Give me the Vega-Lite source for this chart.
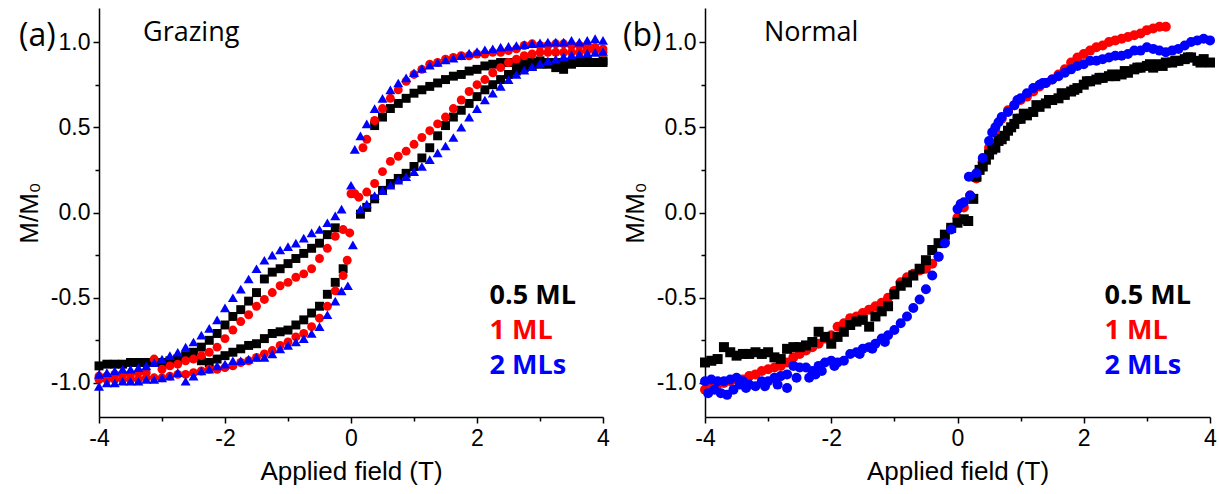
{
"$schema": "https://vega.github.io/schema/vega-lite/v6.json",
"background": "white",
"padding": {"left": 16, "top": 8, "right": 5, "bottom": 5},
"spacing": 102,
"bounds": "flush",
"config": {"view": {"stroke": null}, "axis": {"grid": false, "domainColor": "#000", "domainWidth": 1.5, "tickColor": "#000", "tickWidth": 1.5, "labelFont": "Liberation Sans", "labelFontSize": 23, "labelColor": "#000", "labelFlush": false, "labelOverlap": false, "titleFont": "Liberation Sans", "titleFontSize": 26, "titleFontWeight": "normal", "titleColor": "#000"}},
"datasets": {
"a05": [
{"x":-4,"y":-0.90},{"x":-3.875,"y":-0.89},{"x":-3.75,"y":-0.89},{"x":-3.625,"y":-0.89},{"x":-3.5,"y":-0.88},{"x":-3.375,"y":-0.88},{"x":-3.25,"y":-0.88},{"x":-3.125,"y":-0.88},{"x":-3,"y":-0.88},{"x":-2.875,"y":-0.87},{"x":-2.75,"y":-0.86},{"x":-2.625,"y":-0.84},{"x":-2.5,"y":-0.82},{"x":-2.375,"y":-0.79},{"x":-2.25,"y":-0.75},{"x":-2.125,"y":-0.71},{"x":-2,"y":-0.66},{"x":-1.875,"y":-0.61},{"x":-1.75,"y":-0.57},{"x":-1.625,"y":-0.52},{"x":-1.5,"y":-0.47},{"x":-1.375,"y":-0.39},{"x":-1.25,"y":-0.35},{"x":-1.125,"y":-0.33},{"x":-1,"y":-0.30},{"x":-0.875,"y":-0.27},{"x":-0.75,"y":-0.24},{"x":-0.625,"y":-0.21},{"x":-0.5,"y":-0.18},{"x":-0.375,"y":-0.13},{"x":-0.25,"y":-0.09},
{"x":-0.125,"y":-0.33},{"x":-0.25,"y":-0.41},{"x":-0.375,"y":-0.48},{"x":-0.5,"y":-0.55},{"x":-0.625,"y":-0.59},{"x":-0.75,"y":-0.63},{"x":-0.875,"y":-0.66},{"x":-1,"y":-0.69},{"x":-1.125,"y":-0.70},{"x":-1.25,"y":-0.71},{"x":-1.375,"y":-0.74},{"x":-1.5,"y":-0.77},{"x":-1.625,"y":-0.78},{"x":-1.75,"y":-0.80},{"x":-1.875,"y":-0.82},{"x":-2,"y":-0.84},{"x":-2.125,"y":-0.86},{"x":-2.25,"y":-0.88},{"x":-2.375,"y":-0.87},
{"x":0.15,"y":-0.01},{"x":0.25,"y":0.03},{"x":0.375,"y":0.08},{"x":0.5,"y":0.13},{"x":0.625,"y":0.17},{"x":0.75,"y":0.20},{"x":0.875,"y":0.23},{"x":1,"y":0.27},{"x":1.125,"y":0.32},{"x":1.25,"y":0.38},{"x":1.375,"y":0.45},{"x":1.5,"y":0.51},{"x":1.625,"y":0.56},{"x":1.75,"y":0.60},{"x":1.875,"y":0.64},{"x":2,"y":0.68},{"x":2.125,"y":0.72},{"x":2.25,"y":0.75},{"x":2.375,"y":0.78},{"x":2.5,"y":0.81},{"x":2.625,"y":0.83},{"x":2.75,"y":0.85},{"x":2.875,"y":0.86},{"x":3,"y":0.87},{"x":3.125,"y":0.87},{"x":3.25,"y":0.88},{"x":3.375,"y":0.88},{"x":3.5,"y":0.88},{"x":3.625,"y":0.88},{"x":3.75,"y":0.89},{"x":3.875,"y":0.88},{"x":4,"y":0.88},
{"x":0.375,"y":0.51},{"x":0.5,"y":0.56},{"x":0.625,"y":0.61},{"x":0.75,"y":0.64},{"x":0.875,"y":0.67},{"x":1,"y":0.70},{"x":1.125,"y":0.72},{"x":1.25,"y":0.74},{"x":1.375,"y":0.76},{"x":1.5,"y":0.78},{"x":1.625,"y":0.80},{"x":1.75,"y":0.81},{"x":1.875,"y":0.83},{"x":2,"y":0.84},{"x":2.125,"y":0.86},{"x":2.25,"y":0.87},{"x":2.375,"y":0.88},{"x":2.5,"y":0.88},{"x":2.625,"y":0.88},{"x":2.75,"y":0.89},{"x":2.875,"y":0.88},{"x":3,"y":0.89},{"x":3.125,"y":0.88},{"x":3.25,"y":0.85},{"x":3.375,"y":0.84},{"x":3.5,"y":0.87},{"x":3.625,"y":0.88},{"x":3.75,"y":0.88},{"x":3.875,"y":0.88},{"x":4,"y":0.89}
],
"a1": [
{"x":-4,"y":-0.96},{"x":-3.875,"y":-0.96},{"x":-3.75,"y":-0.95},{"x":-3.625,"y":-0.95},{"x":-3.5,"y":-0.95},{"x":-3.375,"y":-0.94},{"x":-3.25,"y":-0.94},{"x":-3.125,"y":-0.86},{"x":-3,"y":-0.92},{"x":-2.875,"y":-0.90},{"x":-2.75,"y":-0.89},{"x":-2.625,"y":-0.87},{"x":-2.5,"y":-0.86},{"x":-2.375,"y":-0.84},{"x":-2.25,"y":-0.82},{"x":-2.125,"y":-0.79},{"x":-2,"y":-0.74},{"x":-1.875,"y":-0.69},{"x":-1.75,"y":-0.64},{"x":-1.625,"y":-0.60},{"x":-1.5,"y":-0.55},{"x":-1.375,"y":-0.51},{"x":-1.25,"y":-0.47},{"x":-1.125,"y":-0.43},{"x":-1,"y":-0.41},{"x":-0.875,"y":-0.38},{"x":-0.75,"y":-0.36},{"x":-0.625,"y":-0.33},{"x":-0.5,"y":-0.27},{"x":-0.375,"y":-0.21},{"x":-0.25,"y":-0.14},{"x":-0.125,"y":-0.10},{"x":-0.02,"y":-0.12},
{"x":-0.06,"y":-0.28},{"x":-0.125,"y":-0.37},{"x":-0.25,"y":-0.46},{"x":-0.375,"y":-0.55},{"x":-0.5,"y":-0.62},{"x":-0.625,"y":-0.67},{"x":-0.75,"y":-0.71},{"x":-0.875,"y":-0.73},{"x":-1,"y":-0.76},{"x":-1.125,"y":-0.78},{"x":-1.25,"y":-0.81},{"x":-1.375,"y":-0.83},{"x":-1.5,"y":-0.85},{"x":-1.625,"y":-0.87},{"x":-1.75,"y":-0.88},{"x":-1.875,"y":-0.90},{"x":-2,"y":-0.91},{"x":-2.125,"y":-0.92},{"x":-2.25,"y":-0.92},{"x":-2.375,"y":-0.93},{"x":-2.5,"y":-0.94},{"x":-2.625,"y":-0.95},{"x":-2.75,"y":-0.95},{"x":-2.875,"y":-0.96},{"x":-3,"y":-0.97},{"x":-3.125,"y":-0.97},{"x":-3.25,"y":-0.97},{"x":-3.375,"y":-0.98},{"x":-3.5,"y":-0.98},{"x":-3.625,"y":-0.98},{"x":-3.75,"y":-0.98},{"x":-3.875,"y":-0.98},{"x":-4,"y":-0.98},
{"x":0,"y":0.11},{"x":0.06,"y":0.11},{"x":0.125,"y":0.09},{"x":0.25,"y":0.12},{"x":0.375,"y":0.17},{"x":0.5,"y":0.24},{"x":0.625,"y":0.30},{"x":0.75,"y":0.33},{"x":0.875,"y":0.36},{"x":1,"y":0.40},{"x":1.125,"y":0.44},{"x":1.25,"y":0.48},{"x":1.375,"y":0.52},{"x":1.5,"y":0.56},{"x":1.625,"y":0.61},{"x":1.75,"y":0.66},{"x":1.875,"y":0.71},{"x":2,"y":0.75},{"x":2.125,"y":0.78},{"x":2.25,"y":0.82},{"x":2.375,"y":0.85},{"x":2.5,"y":0.88},{"x":2.625,"y":0.90},{"x":2.75,"y":0.92},{"x":2.875,"y":0.93},{"x":3,"y":0.94},{"x":3.125,"y":0.94},{"x":3.25,"y":0.94},{"x":3.375,"y":0.94},{"x":3.5,"y":0.94},{"x":3.625,"y":0.94},{"x":3.75,"y":0.95},{"x":3.875,"y":0.95},{"x":4,"y":0.94},
{"x":0.19,"y":0.38},{"x":0.25,"y":0.43},{"x":0.375,"y":0.54},{"x":0.5,"y":0.61},{"x":0.625,"y":0.67},{"x":0.75,"y":0.72},{"x":0.875,"y":0.77},{"x":1,"y":0.81},{"x":1.125,"y":0.84},{"x":1.25,"y":0.87},{"x":1.375,"y":0.88},{"x":1.5,"y":0.90},{"x":1.625,"y":0.91},{"x":1.75,"y":0.92},{"x":1.875,"y":0.92},{"x":2,"y":0.93},{"x":2.125,"y":0.93},{"x":2.25,"y":0.94},{"x":2.375,"y":0.94},{"x":2.5,"y":0.95},{"x":2.625,"y":0.96},{"x":2.75,"y":0.98},{"x":2.875,"y":0.99},{"x":3,"y":0.98},{"x":3.125,"y":0.98},{"x":3.25,"y":0.99},{"x":3.375,"y":0.99},{"x":3.5,"y":0.98},{"x":3.625,"y":0.98},{"x":3.75,"y":0.97},{"x":3.875,"y":0.97},{"x":4,"y":0.96}
],
"a2": [
{"x":-4,"y":-0.95},{"x":-3.875,"y":-0.94},{"x":-3.75,"y":-0.93},{"x":-3.625,"y":-0.92},{"x":-3.5,"y":-0.92},{"x":-3.375,"y":-0.91},{"x":-3.25,"y":-0.90},{"x":-3.125,"y":-0.88},{"x":-3,"y":-0.86},{"x":-2.875,"y":-0.84},{"x":-2.75,"y":-0.82},{"x":-2.625,"y":-0.79},{"x":-2.5,"y":-0.76},{"x":-2.375,"y":-0.72},{"x":-2.25,"y":-0.68},{"x":-2.125,"y":-0.63},{"x":-2,"y":-0.56},{"x":-1.875,"y":-0.50},{"x":-1.75,"y":-0.45},{"x":-1.625,"y":-0.39},{"x":-1.5,"y":-0.33},{"x":-1.375,"y":-0.28},{"x":-1.25,"y":-0.25},{"x":-1.125,"y":-0.22},{"x":-1,"y":-0.20},{"x":-0.875,"y":-0.18},{"x":-0.75,"y":-0.15},{"x":-0.625,"y":-0.12},{"x":-0.5,"y":-0.10},{"x":-0.375,"y":-0.06},{"x":-0.25,"y":-0.02},{"x":-0.15,"y":0.02},
{"x":0,"y":0.16},{"x":0.03,"y":-0.19},{"x":-0.05,"y":-0.43},
{"x":-0.15,"y":-0.46},{"x":-0.25,"y":-0.52},{"x":-0.375,"y":-0.60},{"x":-0.5,"y":-0.67},{"x":-0.625,"y":-0.71},{"x":-0.75,"y":-0.74},{"x":-0.875,"y":-0.76},{"x":-1,"y":-0.78},{"x":-1.125,"y":-0.80},{"x":-1.25,"y":-0.83},{"x":-1.375,"y":-0.85},{"x":-1.5,"y":-0.85},{"x":-1.625,"y":-0.86},{"x":-1.75,"y":-0.87},{"x":-1.875,"y":-0.87},{"x":-2,"y":-0.89},{"x":-2.125,"y":-0.90},{"x":-2.25,"y":-0.92},{"x":-2.375,"y":-0.93},{"x":-2.5,"y":-0.96},{"x":-2.625,"y":-0.99},{"x":-2.75,"y":-0.94},{"x":-2.875,"y":-0.96},{"x":-3,"y":-0.97},{"x":-3.125,"y":-0.98},{"x":-3.25,"y":-0.98},{"x":-3.375,"y":-0.99},{"x":-3.5,"y":-0.99},{"x":-3.625,"y":-0.99},{"x":-3.75,"y":-1.0},{"x":-3.875,"y":-1.0},{"x":-4,"y":-1.02},
{"x":0.06,"y":0.37},{"x":0.15,"y":0.45},{"x":0.25,"y":0.52},{"x":0.375,"y":0.61},{"x":0.5,"y":0.67},{"x":0.625,"y":0.72},{"x":0.75,"y":0.76},{"x":0.875,"y":0.79},{"x":1,"y":0.82},{"x":1.125,"y":0.845},{"x":1.25,"y":0.865},{"x":1.375,"y":0.88},{"x":1.5,"y":0.895},{"x":1.625,"y":0.905},{"x":1.75,"y":0.92},{"x":1.875,"y":0.935},{"x":2,"y":0.945},{"x":2.125,"y":0.955},{"x":2.25,"y":0.96},{"x":2.375,"y":0.97},{"x":2.5,"y":0.975},{"x":2.625,"y":0.98},{"x":2.75,"y":0.985},{"x":2.875,"y":0.99},{"x":3,"y":0.995},{"x":3.125,"y":1.0},{"x":3.25,"y":1.0},{"x":3.375,"y":1.0},{"x":3.5,"y":1.01},{"x":3.625,"y":1.0},{"x":3.75,"y":1.01},{"x":3.875,"y":1.02},{"x":4,"y":1.01},
{"x":0.15,"y":0.02},{"x":0.25,"y":0.05},{"x":0.375,"y":0.10},{"x":0.5,"y":0.13},{"x":0.625,"y":0.16},{"x":0.75,"y":0.19},{"x":0.875,"y":0.21},{"x":1,"y":0.24},{"x":1.125,"y":0.27},{"x":1.25,"y":0.31},{"x":1.375,"y":0.35},{"x":1.5,"y":0.39},{"x":1.625,"y":0.44},{"x":1.75,"y":0.50},{"x":1.875,"y":0.56},{"x":2,"y":0.61},{"x":2.125,"y":0.66},{"x":2.25,"y":0.70},{"x":2.375,"y":0.74},{"x":2.5,"y":0.78},{"x":2.625,"y":0.81},{"x":2.75,"y":0.835},{"x":2.875,"y":0.855},{"x":3,"y":0.875},{"x":3.125,"y":0.89},{"x":3.25,"y":0.90},{"x":3.375,"y":0.915},{"x":3.5,"y":0.925},{"x":3.625,"y":0.93},{"x":3.75,"y":0.935},{"x":3.875,"y":0.94},{"x":4,"y":0.945}
],
"b05": [
{"x":-4,"y":-0.88},{"x":-3.9,"y":-0.87},{"x":-3.8,"y":-0.86},{"x":-3.7,"y":-0.79},{"x":-3.6,"y":-0.82},{"x":-3.5,"y":-0.84},{"x":-3.4,"y":-0.83},{"x":-3.3,"y":-0.83},{"x":-3.2,"y":-0.82},{"x":-3.1,"y":-0.83},{"x":-3,"y":-0.82},{"x":-2.9,"y":-0.85},{"x":-2.8,"y":-0.86},{"x":-2.7,"y":-0.80},{"x":-2.6,"y":-0.79},{"x":-2.5,"y":-0.79},{"x":-2.4,"y":-0.78},{"x":-2.3,"y":-0.76},{"x":-2.2,"y":-0.70},{"x":-2.1,"y":-0.73},{"x":-2,"y":-0.77},{"x":-1.9,"y":-0.73},{"x":-1.8,"y":-0.70},{"x":-1.7,"y":-0.66},{"x":-1.6,"y":-0.64},{"x":-1.5,"y":-0.63},{"x":-1.4,"y":-0.67},{"x":-1.3,"y":-0.61},{"x":-1.2,"y":-0.58},{"x":-1.1,"y":-0.55},{"x":-1,"y":-0.48},{"x":-0.9,"y":-0.43},{"x":-0.8,"y":-0.41},{"x":-0.7,"y":-0.37},{"x":-0.6,"y":-0.33},{"x":-0.5,"y":-0.28},{"x":-0.4,"y":-0.22},{"x":-0.3,"y":-0.18},{"x":-0.2,"y":-0.13},{"x":-0.1,"y":-0.09},{"x":0,"y":-0.06},{"x":0.1,"y":-0.04},{"x":0.17,"y":-0.05},{"x":0.25,"y":0.08},{"x":0.3,"y":0.21},{"x":0.4,"y":0.27},{"x":0.5,"y":0.34},{"x":0.6,"y":0.38},{"x":0.7,"y":0.43},{"x":0.8,"y":0.48},{"x":0.9,"y":0.52},{"x":1,"y":0.55},{"x":1.1,"y":0.57},{"x":1.2,"y":0.59},{"x":1.3,"y":0.62},{"x":1.4,"y":0.64},{"x":1.5,"y":0.66},{"x":1.6,"y":0.67},{"x":1.7,"y":0.69},{"x":1.8,"y":0.71},{"x":1.9,"y":0.73},{"x":2,"y":0.75},{"x":2.1,"y":0.77},{"x":2.2,"y":0.78},{"x":2.3,"y":0.79},{"x":2.4,"y":0.80},{"x":2.5,"y":0.80},{"x":2.6,"y":0.81},{"x":2.7,"y":0.82},{"x":2.8,"y":0.84},{"x":2.9,"y":0.85},{"x":3,"y":0.86},{"x":3.1,"y":0.85},{"x":3.2,"y":0.87},{"x":3.3,"y":0.88},{"x":3.4,"y":0.88},{"x":3.5,"y":0.89},{"x":3.6,"y":0.90},{"x":3.7,"y":0.91},{"x":3.8,"y":0.89},{"x":3.9,"y":0.90},{"x":4,"y":0.88},
{"x":0.35,"y":0.25},{"x":0.45,"y":0.31},{"x":0.55,"y":0.37},{"x":0.65,"y":0.42},{"x":0.75,"y":0.45},{"x":0.85,"y":0.50},{"x":0.95,"y":0.55},{"x":1.05,"y":0.58},{"x":1.25,"y":0.63},{"x":1.45,"y":0.66},{"x":1.65,"y":0.70},{"x":1.85,"y":0.72},{"x":2.05,"y":0.77},{"x":2.25,"y":0.79},{"x":2.45,"y":0.81},{"x":2.65,"y":0.83},{"x":2.85,"y":0.85},{"x":3.05,"y":0.87},{"x":3.25,"y":0.86},{"x":3.45,"y":0.89},{"x":3.65,"y":0.91},{"x":3.85,"y":0.88}
],
"b1": [
{"x":-4,"y":-1.04},{"x":-3.9,"y":-1.02},{"x":-3.8,"y":-1.01},{"x":-3.7,"y":-1.00},{"x":-3.6,"y":-0.99},{"x":-3.5,"y":-0.98},{"x":-3.4,"y":-0.98},{"x":-3.3,"y":-0.96},{"x":-3.2,"y":-0.95},{"x":-3.1,"y":-0.93},{"x":-3,"y":-0.92},{"x":-2.9,"y":-0.91},{"x":-2.8,"y":-0.90},{"x":-2.7,"y":-0.88},{"x":-2.6,"y":-0.85},{"x":-2.5,"y":-0.83},{"x":-2.4,"y":-0.81},{"x":-2.3,"y":-0.79},{"x":-2.2,"y":-0.77},{"x":-2.1,"y":-0.74},{"x":-2,"y":-0.72},{"x":-1.9,"y":-0.67},{"x":-1.8,"y":-0.65},{"x":-1.7,"y":-0.62},{"x":-1.6,"y":-0.61},{"x":-1.5,"y":-0.59},{"x":-1.4,"y":-0.57},{"x":-1.3,"y":-0.55},{"x":-1.2,"y":-0.53},{"x":-1.1,"y":-0.50},{"x":-1,"y":-0.46},{"x":-0.9,"y":-0.41},{"x":-0.8,"y":-0.38},{"x":-0.7,"y":-0.36},{"x":-0.6,"y":-0.34},{"x":-0.5,"y":-0.33},{"x":-0.4,"y":-0.30},{"x":-0.3,"y":-0.26},{"x":-0.2,"y":-0.17},{"x":-0.1,"y":-0.09},{"x":0,"y":-0.03},{"x":0.1,"y":0.03},{"x":0.2,"y":0.10},{"x":0.3,"y":0.20},{"x":0.4,"y":0.30},{"x":0.5,"y":0.38},{"x":0.6,"y":0.47},{"x":0.7,"y":0.55},{"x":0.8,"y":0.60},{"x":0.9,"y":0.63},{"x":1,"y":0.66},{"x":1.1,"y":0.68},{"x":1.2,"y":0.71},{"x":1.3,"y":0.74},{"x":1.4,"y":0.76},{"x":1.5,"y":0.78},{"x":1.6,"y":0.81},{"x":1.7,"y":0.84},{"x":1.8,"y":0.88},{"x":1.9,"y":0.91},{"x":2,"y":0.93},{"x":2.1,"y":0.95},{"x":2.2,"y":0.97},{"x":2.3,"y":0.98},{"x":2.4,"y":1.00},{"x":2.5,"y":1.01},{"x":2.6,"y":1.02},{"x":2.7,"y":1.03},{"x":2.8,"y":1.04},{"x":2.9,"y":1.05},{"x":3,"y":1.07},{"x":3.1,"y":1.08},{"x":3.2,"y":1.09},{"x":3.3,"y":1.09}
],
"b2": [
{"x":-4,"y":-0.99},{"x":-3.9,"y":-0.98},{"x":-3.8,"y":-0.99},{"x":-3.7,"y":-0.99},{"x":-3.6,"y":-0.98},{"x":-3.5,"y":-0.97},{"x":-3.4,"y":-0.99},{"x":-3.3,"y":-1.01},{"x":-3.2,"y":-1.02},{"x":-3.1,"y":-0.99},{"x":-3,"y":-0.99},{"x":-2.9,"y":-0.97},{"x":-2.8,"y":-0.96},{"x":-2.7,"y":-0.95},{"x":-2.6,"y":-0.90},{"x":-2.5,"y":-0.91},{"x":-2.4,"y":-0.91},{"x":-2.3,"y":-0.93},{"x":-2.2,"y":-0.90},{"x":-2.1,"y":-0.88},{"x":-2,"y":-0.87},{"x":-1.9,"y":-0.88},{"x":-1.8,"y":-0.87},{"x":-1.7,"y":-0.83},{"x":-1.6,"y":-0.82},{"x":-1.5,"y":-0.80},{"x":-1.4,"y":-0.79},{"x":-1.3,"y":-0.77},{"x":-1.2,"y":-0.74},{"x":-1.1,"y":-0.72},{"x":-1,"y":-0.69},{"x":-0.9,"y":-0.65},{"x":-0.8,"y":-0.61},{"x":-0.7,"y":-0.56},{"x":-0.6,"y":-0.51},{"x":-0.5,"y":-0.45},{"x":-0.4,"y":-0.37},{"x":-0.3,"y":-0.26},{"x":-0.2,"y":-0.18},{"x":-0.1,"y":-0.10},{"x":0,"y":0.02},{"x":0.1,"y":0.06},{"x":0.2,"y":0.10},{"x":0.3,"y":0.23},{"x":0.4,"y":0.32},{"x":0.5,"y":0.42},{"x":0.6,"y":0.50},{"x":0.7,"y":0.56},{"x":0.8,"y":0.59},{"x":0.9,"y":0.63},{"x":1,"y":0.67},{"x":1.1,"y":0.70},{"x":1.2,"y":0.73},{"x":1.3,"y":0.75},{"x":1.4,"y":0.76},{"x":1.5,"y":0.78},{"x":1.6,"y":0.80},{"x":1.7,"y":0.82},{"x":1.8,"y":0.84},{"x":1.9,"y":0.86},{"x":2,"y":0.87},{"x":2.1,"y":0.89},{"x":2.2,"y":0.89},{"x":2.3,"y":0.90},{"x":2.4,"y":0.91},{"x":2.5,"y":0.92},{"x":2.6,"y":0.92},{"x":2.7,"y":0.93},{"x":2.8,"y":0.95},{"x":2.9,"y":0.95},{"x":3,"y":0.97},{"x":3.1,"y":0.96},{"x":3.2,"y":0.95},{"x":3.3,"y":0.94},{"x":3.4,"y":0.95},{"x":3.5,"y":0.96},{"x":3.6,"y":0.98},{"x":3.7,"y":1.00},{"x":3.8,"y":1.01},{"x":3.9,"y":1.02},{"x":4,"y":1.01},
{"x":-3.95,"y":-1.06},{"x":-3.85,"y":-1.04},{"x":-3.75,"y":-1.06},{"x":-3.65,"y":-1.07},{"x":-3.55,"y":-1.04},{"x":-3.45,"y":-1.01},{"x":-3.35,"y":-1.03},{"x":-3.05,"y":-1.02},{"x":-2.85,"y":-1.01},{"x":-2.7,"y":-1.03},{"x":-2.55,"y":-0.97},{"x":-2.35,"y":-0.97},{"x":-2.25,"y":-0.95},{"x":-2.15,"y":-0.93},{"x":-1.95,"y":-0.90},{"x":-1.55,"y":-0.83},{"x":-1.35,"y":-0.80},{"x":-1.15,"y":-0.76},{"x":0.05,"y":0.05},{"x":0.18,"y":0.21},{"x":0.55,"y":0.47},{"x":0.65,"y":0.53},{"x":0.95,"y":0.66},{"x":1.35,"y":0.76}
]
},
"hconcat": [
{
"width": 504, "height": 409,
"resolve": {"axis": {"x": "independent", "y": "independent"}},
"layer": [
{"data": {"name": "a05"}, "mark": {"type": "point", "shape": "square", "filled": true, "size": 80, "color": "#000000", "opacity": 1},
 "encoding": {
  "x": {"field": "x", "type": "quantitative", "scale": {"domain": [-4, 4], "nice": false, "zero": false}, "axis": {"orient": "bottom", "values": [-4, -2, 0, 2, 4], "title": "Applied field (T)", "tickSize": 6, "labelPadding": 4, "titlePadding": 8, "labelExpr": "datum.value < 0 ? '-' + (-datum.value) : '' + datum.value"}},
  "y": {"field": "y", "type": "quantitative", "scale": {"domain": [-1.2, 1.2], "nice": false, "zero": false}, "axis": {"orient": "left", "values": [-1, -0.5, 0, 0.5, 1], "title": "M/M₀", "tickSize": 6, "labelPadding": 3, "titlePadding": 8, "labelExpr": "datum.value < 0 ? '-' + format(-datum.value, '.1f') : format(datum.value, '.1f')"}}
 }},
{"data": {"name": "a1"}, "mark": {"type": "point", "shape": "circle", "filled": true, "size": 80, "color": "#ff0000", "opacity": 1},
 "encoding": {"x": {"field": "x", "type": "quantitative", "axis": null}, "y": {"field": "y", "type": "quantitative", "axis": null}}},
{"data": {"name": "a2"}, "mark": {"type": "point", "shape": "triangle-up", "filled": true, "size": 100, "color": "#0000ff", "opacity": 1},
 "encoding": {"x": {"field": "x", "type": "quantitative", "axis": null}, "y": {"field": "y", "type": "quantitative", "axis": null}}},
{"data": {"values": [{}]}, "mark": {"type": "text", "font": "Open Sans", "fontSize": 32, "color": "#000", "align": "left", "baseline": "alphabetic", "dx": -80, "dy": 4},
 "encoding": {"x": {"datum": -4, "type": "quantitative", "axis": {"orient": "bottom", "values": [-3, -1, 1, 3], "labels": false, "domain": false, "title": null, "tickSize": 4}},
  "y": {"datum": 1, "type": "quantitative", "axis": {"orient": "left", "values": [-0.75, -0.25, 0.25, 0.75], "labels": false, "domain": false, "title": null, "tickSize": 4}},
  "text": {"value": "(a)"}}},
{"data": {"values": [{}]}, "mark": {"type": "text", "font": "Open Sans", "fontSize": 27, "color": "#000", "align": "left", "baseline": "alphabetic", "dx": 44, "dy": -1},
 "encoding": {"x": {"datum": -4, "type": "quantitative", "axis": null}, "y": {"datum": 1, "type": "quantitative", "axis": null}, "text": {"value": "Grazing"}}},
{"data": {"values": [{}]}, "mark": {"type": "text", "font": "Open Sans", "fontWeight": "bold", "fontSize": 27, "color": "#000000", "align": "left", "baseline": "alphabetic"},
 "encoding": {"x": {"datum": 2.2, "type": "quantitative", "axis": null}, "y": {"datum": -0.535, "type": "quantitative", "axis": null}, "text": {"value": "0.5 ML"}}},
{"data": {"values": [{}]}, "mark": {"type": "text", "font": "Open Sans", "fontWeight": "bold", "fontSize": 27, "color": "#ff0000", "align": "left", "baseline": "alphabetic"},
 "encoding": {"x": {"datum": 2.2, "type": "quantitative", "axis": null}, "y": {"datum": -0.741, "type": "quantitative", "axis": null}, "text": {"value": "1 ML"}}},
{"data": {"values": [{}]}, "mark": {"type": "text", "font": "Open Sans", "fontWeight": "bold", "fontSize": 27, "color": "#0000ff", "align": "left", "baseline": "alphabetic"},
 "encoding": {"x": {"datum": 2.2, "type": "quantitative", "axis": null}, "y": {"datum": -0.947, "type": "quantitative", "axis": null}, "text": {"value": "2 MLs"}}}
]
},
{
"width": 505, "height": 409,
"resolve": {"axis": {"x": "independent", "y": "independent"}},
"layer": [
{"data": {"name": "b1"}, "mark": {"type": "point", "shape": "circle", "filled": true, "size": 100, "color": "#ff0000", "opacity": 1},
 "encoding": {
  "x": {"field": "x", "type": "quantitative", "scale": {"domain": [-4, 4], "nice": false, "zero": false}, "axis": {"orient": "bottom", "values": [-4, -2, 0, 2, 4], "title": "Applied field (T)", "tickSize": 6, "labelPadding": 4, "titlePadding": 8, "labelExpr": "datum.value < 0 ? '-' + (-datum.value) : '' + datum.value"}},
  "y": {"field": "y", "type": "quantitative", "scale": {"domain": [-1.2, 1.2], "nice": false, "zero": false}, "axis": {"orient": "left", "values": [-1, -0.5, 0, 0.5, 1], "title": "M/M₀", "tickSize": 6, "labelPadding": 3, "titlePadding": 8, "labelExpr": "datum.value < 0 ? '-' + format(-datum.value, '.1f') : format(datum.value, '.1f')"}}
 }},
{"data": {"name": "b05"}, "mark": {"type": "point", "shape": "square", "filled": true, "size": 100, "color": "#000000", "opacity": 1},
 "encoding": {"x": {"field": "x", "type": "quantitative", "axis": null}, "y": {"field": "y", "type": "quantitative", "axis": null}}},
{"data": {"name": "b2"}, "mark": {"type": "point", "shape": "circle", "filled": true, "size": 100, "color": "#0000ff", "opacity": 1},
 "encoding": {"x": {"field": "x", "type": "quantitative", "axis": null}, "y": {"field": "y", "type": "quantitative", "axis": null}}},
{"data": {"values": [{}]}, "mark": {"type": "text", "font": "Open Sans", "fontSize": 32, "color": "#000", "align": "left", "baseline": "alphabetic", "dx": -82, "dy": 4},
 "encoding": {"x": {"datum": -4, "type": "quantitative", "axis": {"orient": "bottom", "values": [-3, -1, 1, 3], "labels": false, "domain": false, "title": null, "tickSize": 4}},
  "y": {"datum": 1, "type": "quantitative", "axis": {"orient": "left", "values": [-0.75, -0.25, 0.25, 0.75], "labels": false, "domain": false, "title": null, "tickSize": 4}},
  "text": {"value": "(b)"}}},
{"data": {"values": [{}]}, "mark": {"type": "text", "font": "Open Sans", "fontSize": 27, "color": "#000", "align": "left", "baseline": "alphabetic", "dx": 59, "dy": -1},
 "encoding": {"x": {"datum": -4, "type": "quantitative", "axis": null}, "y": {"datum": 1, "type": "quantitative", "axis": null}, "text": {"value": "Normal"}}},
{"data": {"values": [{}]}, "mark": {"type": "text", "font": "Open Sans", "fontWeight": "bold", "fontSize": 27, "color": "#000000", "align": "left", "baseline": "alphabetic"},
 "encoding": {"x": {"datum": 2.33, "type": "quantitative", "axis": null}, "y": {"datum": -0.535, "type": "quantitative", "axis": null}, "text": {"value": "0.5 ML"}}},
{"data": {"values": [{}]}, "mark": {"type": "text", "font": "Open Sans", "fontWeight": "bold", "fontSize": 27, "color": "#ff0000", "align": "left", "baseline": "alphabetic"},
 "encoding": {"x": {"datum": 2.33, "type": "quantitative", "axis": null}, "y": {"datum": -0.741, "type": "quantitative", "axis": null}, "text": {"value": "1 ML"}}},
{"data": {"values": [{}]}, "mark": {"type": "text", "font": "Open Sans", "fontWeight": "bold", "fontSize": 27, "color": "#0000ff", "align": "left", "baseline": "alphabetic"},
 "encoding": {"x": {"datum": 2.33, "type": "quantitative", "axis": null}, "y": {"datum": -0.947, "type": "quantitative", "axis": null}, "text": {"value": "2 MLs"}}}
]
}
]
}
